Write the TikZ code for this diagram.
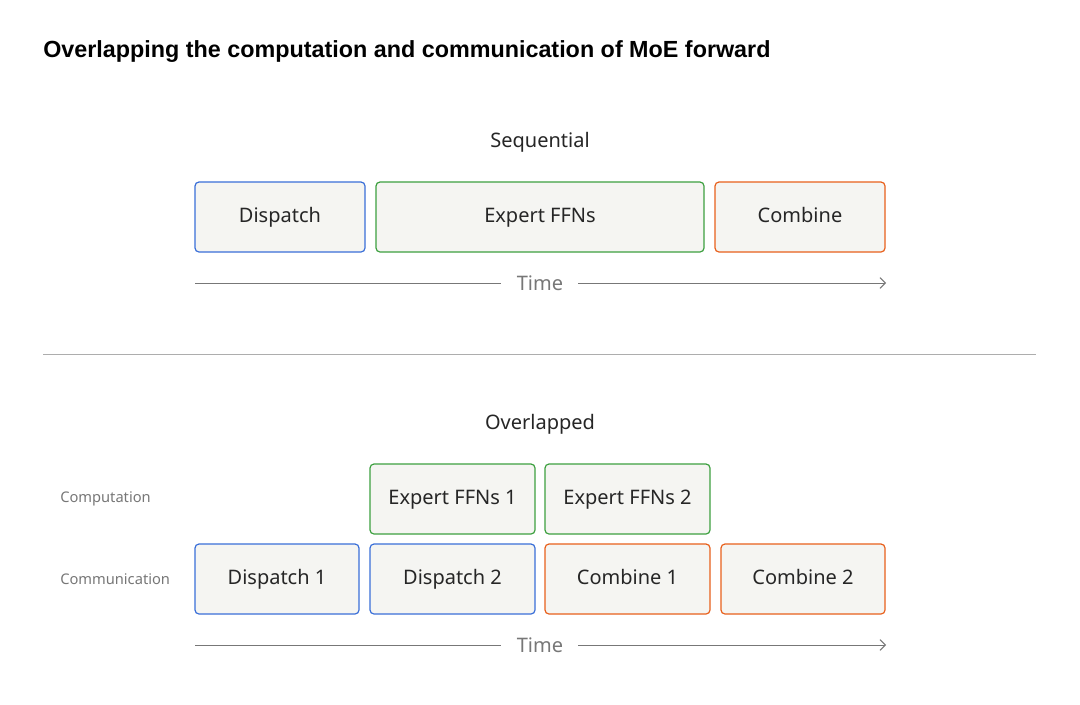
\documentclass[tikz,border=0pt]{standalone}
\usepackage{fontspec}
\setmainfont{Noto Sans}
\newfontfamily\ttlfont{Liberation Sans}
\usetikzlibrary{arrows.meta}
\definecolor{cb}{HTML}{3A6FD8}
\definecolor{cg}{HTML}{3DA040}
\definecolor{co}{HTML}{E8601C}
\definecolor{bf}{HTML}{F5F5F2}
\definecolor{gl}{HTML}{777777}
\begin{document}
\begin{tikzpicture}[x=0.75pt,y=-0.75pt,
 box/.style={draw=#1,fill=bf,rounded corners=3pt,line width=0.9pt},
 lab/.style={font=\fontsize{15}{18}\selectfont,text=black!85,text height=11pt,text depth=3pt},
 side/.style={font=\fontsize{11}{13}\selectfont,text=gl,anchor=west},
 tl/.style={draw=gl,line width=0.7pt},
 tx/.style={font=\fontsize{15}{18}\selectfont,text=gl}]
\useasboundingbox[fill=white] (0,0) rectangle (1080,704);
\node[anchor=west,inner sep=0pt,font=\ttlfont\fontsize{17.5}{20}\selectfont\bfseries] (title) at (43,52) {Overlapping the computation and communication of MoE forward};
\node[lab] (seq) at (540,142) {Sequential};
\draw[box=cb] (195,182) rectangle (365,252) node[midway,lab] (d) {Dispatch};
\draw[box=cg] (376,182) rectangle (704,252) node[midway,lab] (e) {Expert FFNs};
\draw[box=co] (715,182) rectangle (885,252) node[midway,lab] (c) {Combine};
\node[tx] (t1) at (540,283) {Time};
\coordinate (a1) at (195,283); \coordinate (b1) at (886,283);
\coordinate (m1) at (501,283); \coordinate (n1) at (578,283);
\draw[tl] (a1) -- (m1);
\draw[tl,-{Straight Barb[length=4pt]}] (n1) -- (b1);
\coordinate (s1) at (43,354); \coordinate (s2) at (1036,354);
\draw[gl!60,line width=0.6pt] (s1) -- (s2);
\node[lab] (ov) at (540,424) {Overlapped};
\node[side,inner sep=0pt] (cp) at (60,499) {Computation};
\node[side,inner sep=0pt] (cm) at (60,579) {Communication};
\draw[box=cg] (370,464) rectangle (535,534) node[midway,lab] (e1) {Expert FFNs 1};
\draw[box=cg] (545,464) rectangle (710,534) node[midway,lab] (e2) {Expert FFNs 2};
\draw[box=cb] (195,544) rectangle (359,614) node[midway,lab] (d1) {Dispatch 1};
\draw[box=cb] (370,544) rectangle (535,614) node[midway,lab] (d2) {Dispatch 2};
\draw[box=co] (545,544) rectangle (710,614) node[midway,lab] (c1) {Combine 1};
\draw[box=co] (721,544) rectangle (885,614) node[midway,lab] (c2) {Combine 2};
\node[tx] (t2) at (540,645) {Time};
\coordinate (a2) at (195,645); \coordinate (b2) at (886,645);
\coordinate (m2) at (501,645); \coordinate (n2) at (578,645);
\draw[tl] (a2) -- (m2);
\draw[tl,-{Straight Barb[length=4pt]}] (n2) -- (b2);
\end{tikzpicture}
\end{document}
